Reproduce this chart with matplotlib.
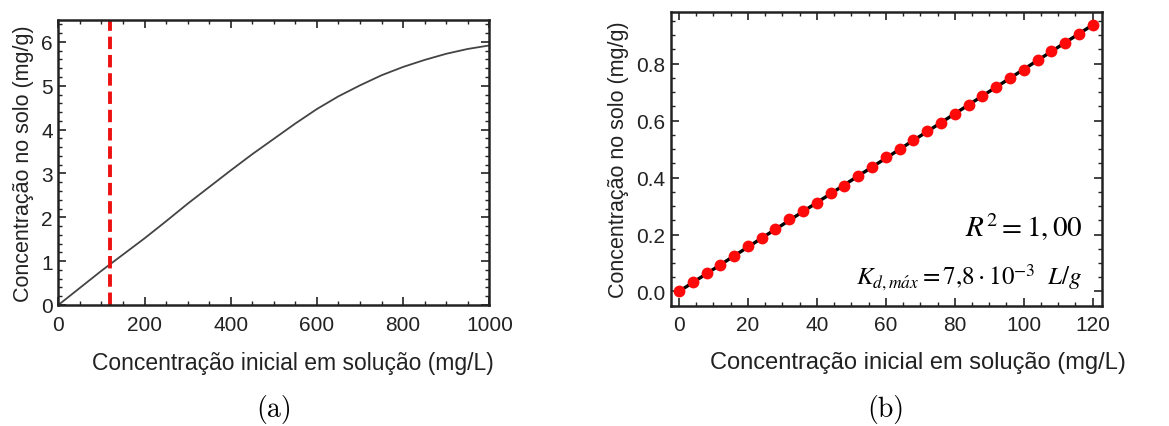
import matplotlib
matplotlib.use("Agg")
import matplotlib.pyplot as plt
from matplotlib.ticker import MultipleLocator

# (a) curva de adsorcao
conc_a = [0, 50, 100, 150, 200, 250, 300, 350, 400, 450, 500,
          550, 600, 650, 700, 750, 800, 850, 900, 950, 1000]
solo_a = [0.0, 0.39, 0.78, 1.15, 1.52, 1.91, 2.31, 2.69, 3.07, 3.44, 3.79,
          4.14, 4.47, 4.76, 5.01, 5.24, 5.43, 5.59, 5.73, 5.84, 5.92]
limite_x = 120

# (b) pontos e ajuste linear
conc_b = [0, 4, 8, 12, 16, 20, 24, 28, 32, 36, 40, 44, 48, 52, 56, 60,
          64, 68, 72, 76, 80, 84, 88, 92, 96, 100, 104, 108, 112, 116, 120]
solo_b = [0.0, 0.033, 0.066, 0.094, 0.126, 0.159, 0.187, 0.220, 0.253, 0.281,
          0.312, 0.346, 0.372, 0.405, 0.437, 0.472, 0.499, 0.531, 0.563, 0.592,
          0.624, 0.656, 0.685, 0.718, 0.751, 0.779, 0.812, 0.845, 0.873, 0.905,
          0.937]
ajuste_x = [0, 120]
ajuste_y = [0.0, 0.936]

plt.rcParams['font.family'] = ['Liberation Sans', 'DejaVu Sans']
plt.rcParams['mathtext.fontset'] = 'stix'

fig = plt.figure(figsize=(11.69, 4.27), dpi=100)
ax1 = fig.add_axes([0.0499, 0.2834, 0.3687, 0.6674])
ax2 = fig.add_axes([0.5737, 0.2817, 0.3687, 0.687])

ax1.plot(conc_a, solo_a, color='#444444', lw=1.3)
ax1.axvline(limite_x, color='#ee1111', lw=2.8, ls=(0, (3.2, 1.5)))
ax1.set_xlim(0, 1000)
ax1.set_ylim(0, 6.5)
ax1.xaxis.set_major_locator(MultipleLocator(200))
ax1.xaxis.set_minor_locator(MultipleLocator(50))
ax1.yaxis.set_major_locator(MultipleLocator(1))
ax1.yaxis.set_minor_locator(MultipleLocator(0.2))

ax2.plot(ajuste_x, ajuste_y, color='black', lw=2.4, zorder=2)
ax2.plot(conc_b, solo_b, 'o', color='#ff0a0a', ms=8.5, mec='none', zorder=3)
ax2.set_xlim(-2.4, 122.6)
ax2.set_ylim(-0.05, 0.98)
ax2.xaxis.set_major_locator(MultipleLocator(20))
ax2.xaxis.set_minor_locator(MultipleLocator(5))
ax2.yaxis.set_major_locator(MultipleLocator(0.2))
ax2.yaxis.set_minor_locator(MultipleLocator(0.05))
ax2.yaxis.set_major_formatter(plt.FuncFormatter(lambda v, p: '%.1f' % v))

for ax, fs in ((ax1, 16.5), (ax2, 17)):
    ax.tick_params(which='both', direction='in', top=True, right=True,
                   labelsize=15, colors='#222222')
    ax.tick_params(axis='x', pad=7)
    ax.tick_params(axis='y', pad=4)
    ax.tick_params(which='major', length=6, width=1.2)
    ax.tick_params(which='minor', length=3, width=1)
    for s in ax.spines.values():
        s.set_linewidth(1.8)
        s.set_color('#222222')
    ax.set_xlabel('Concentração inicial em solução (mg/L)', fontsize=fs,
                  color='#222222')
    ax.set_ylabel('Concentração no solo (mg/g)', fontsize=15.5, color='#222222',
                  labelpad=5)

ax1.xaxis.set_label_coords(0.545, -0.16)
ax2.xaxis.set_label_coords(0.574, -0.155)

ax2.text(0.955, 0.27, r'$R^2=1,00$', transform=ax2.transAxes, ha='right',
         va='center', fontsize=21)
ax2.text(0.955, 0.1, r'$K_{d,m\acute{a}x}=7{,}8\cdot10^{-3}\ \ L/g$',
         transform=ax2.transAxes, ha='right', va='center', fontsize=18)

fig.text(274 / 1169, 1 - 410 / 427, '(a)', fontname='cmr10', fontsize=20,
         ha='center', va='center')
fig.text(886 / 1169, 1 - 410 / 427, '(b)', fontname='cmr10', fontsize=20,
         ha='center', va='center')

fig.savefig('out.png', dpi=100)
